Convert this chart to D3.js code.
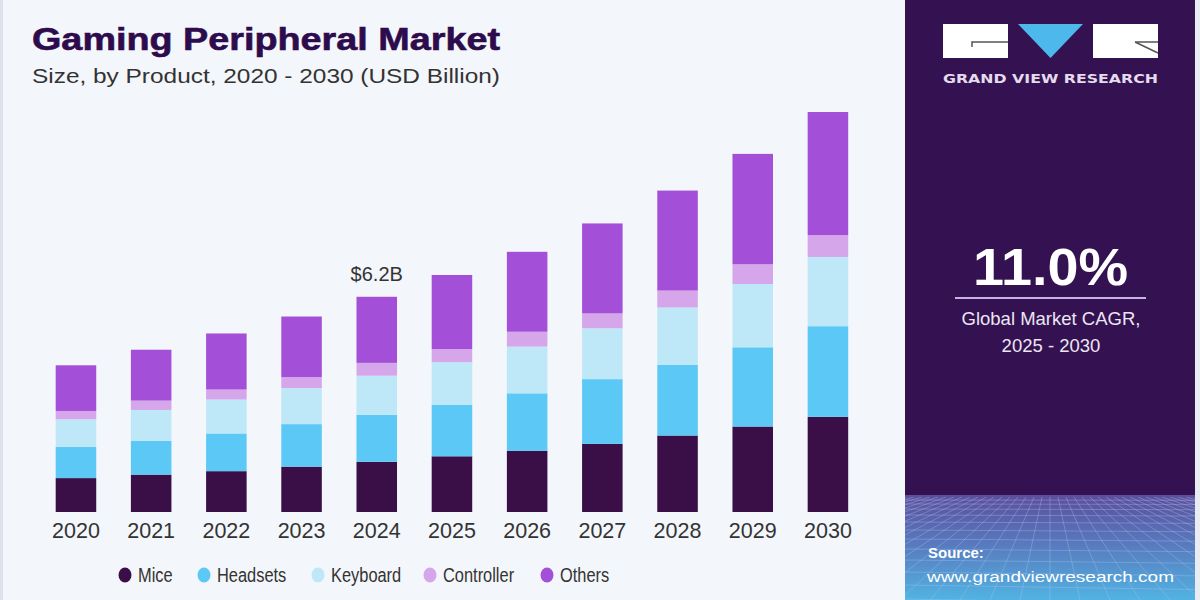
<!DOCTYPE html>
<html>
<head>
<meta charset="utf-8">
<script src="https://cdn.jsdelivr.net/npm/d3@7"></script>
<style>
  html, body { margin: 0; padding: 0; background: #f3f6fa; }
  svg { display: block; }
</style>
</head>
<body>
<svg id="chart" width="1200" height="600"></svg>
<script>
const years = ["2020","2021","2022","2023","2024","2025","2026","2027","2028","2029","2030"];
const seriesNames = ["Mice","Headsets","Keyboard","Controller","Others"];
const mice       = [0.98, 1.08, 1.18, 1.31, 1.45, 1.61, 1.77, 1.97, 2.21, 2.47, 2.75];
const headsets   = [0.90, 0.98, 1.09, 1.23, 1.36, 1.49, 1.66, 1.87, 2.04, 2.29, 2.62];
const keyboard   = [0.80, 0.89, 0.98, 1.04, 1.13, 1.23, 1.35, 1.47, 1.66, 1.83, 2.00];
const controller = [0.24, 0.27, 0.29, 0.32, 0.37, 0.38, 0.43, 0.43, 0.49, 0.57, 0.63];
const others     = [1.32, 1.47, 1.62, 1.75, 1.91, 2.14, 2.31, 2.60, 2.89, 3.19, 3.56];
const colors = ["#3a0f48", "#5bc8f5", "#bee8f8", "#d5a6ea", "#a44fd8"];
const annotationYear = "2024";
const annotationText = "$6.2B";

const svg = d3.select("#chart");

// background
svg.append("rect").attr("width",1200).attr("height",600).attr("fill","#f3f6fa");
svg.append("rect").attr("x",0).attr("y",0).attr("width",3).attr("height",600).attr("fill","#dfe2ea");

// data table
const table = years.map((y,i) => ({year:y, Mice:mice[i], Headsets:headsets[i], Keyboard:keyboard[i], Controller:controller[i], Others:others[i]}));
const stack = d3.stack().keys(seriesNames)(table);

const x = d3.scaleBand().domain(years).range([55.7, 848.2]).paddingInner(0.461).paddingOuter(0);
const y = d3.scaleLinear().domain([0, 10]).range([512, 166]);
const color = d3.scaleOrdinal().domain(seriesNames).range(colors);

const g = svg.append("g");
g.selectAll("g.series").data(stack).join("g")
  .attr("fill", d => color(d.key))
  .selectAll("rect").data(d => d).join("rect")
  .attr("x", d => x(d.data.year))
  .attr("width", x.bandwidth())
  .attr("y", d => y(d[1]))
  .attr("height", d => y(d[0]) - y(d[1]));

// x axis labels
const xAxis = d3.axisBottom(x).tickSize(0).tickPadding(10);
const ax = svg.append("g").attr("transform","translate(0,512)").call(xAxis);
ax.select(".domain").remove();
ax.selectAll("text").attr("font-family","Liberation Sans, Arial, sans-serif")
  .attr("font-size", 21.5).attr("fill","#333").attr("dy","0.76em");

// annotation
const ai = years.indexOf(annotationYear);
const total = mice[ai]+headsets[ai]+keyboard[ai]+controller[ai]+others[ai];
svg.append("text").attr("x", x(annotationYear)+x.bandwidth()/2).attr("y", y(total)-15.5)
  .attr("text-anchor","middle").attr("font-family","Liberation Sans, Arial, sans-serif")
  .attr("font-size",20).attr("fill","#333").text(annotationText);

// title
svg.append("text").attr("x",32).attr("y",50).attr("font-family","Liberation Sans, Arial, sans-serif")
  .attr("font-weight","bold").attr("font-size",31).attr("fill","#2d0b4c").attr("stroke","#2d0b4c").attr("stroke-width",0.6)
  .attr("textLength",468).attr("lengthAdjust","spacingAndGlyphs").text("Gaming Peripheral Market");
svg.append("text").attr("x",32).attr("y",83).attr("font-family","Liberation Sans, Arial, sans-serif")
  .attr("font-size",21).attr("fill","#333")
  .attr("textLength",468).attr("lengthAdjust","spacingAndGlyphs").text("Size, by Product, 2020 - 2030 (USD Billion)");

// legend
const legendX = [125, 204, 318, 430, 547];
const lg = svg.append("g");
seriesNames.forEach((n,i) => {
  lg.append("ellipse").attr("cx",legendX[i]).attr("cy",575).attr("rx",6.5).attr("ry",7.5).attr("fill",colors[i]);
  const t = lg.append("text").attr("x",legendX[i]+13).attr("y",582).attr("font-family","Liberation Sans, Arial, sans-serif")
    .attr("font-size",20).attr("fill","#333").text(n);
  const w = t.node().getComputedTextLength();
  t.attr("textLength", w*0.82).attr("lengthAdjust","spacingAndGlyphs");
});

// right panel
const defs = svg.append("defs");
const grad = defs.append("linearGradient").attr("id","pg").attr("x1",0).attr("y1",0).attr("x2",0).attr("y2",1);
grad.append("stop").attr("offset","0%").attr("stop-color","#5d4d9c");
grad.append("stop").attr("offset","45%").attr("stop-color","#5878bd");
grad.append("stop").attr("offset","100%").attr("stop-color","#52b3e3");
svg.append("rect").attr("x",905).attr("y",0).attr("width",295).attr("height",600).attr("fill","#e9ecf3");
svg.append("rect").attr("x",905).attr("y",0).attr("width",290).attr("height",495).attr("fill","#341251");
svg.append("rect").attr("x",905).attr("y",495).attr("width",290).attr("height",105).attr("fill","url(#pg)");

// decorative perspective grid
const grid = svg.append("g").attr("stroke","#a9c8ee").attr("stroke-opacity",0.35).attr("stroke-width",1);
defs.append("clipPath").attr("id","pc").append("rect").attr("x",905).attr("y",497).attr("width",290).attr("height",103);
grid.attr("clip-path","url(#pc)");
const hy = [500, 504, 509, 515, 522, 530, 539, 549, 560, 572, 585, 599];
hy.forEach(v => grid.append("line").attr("x1",905).attr("x2",1195).attr("y1",v).attr("y2",v+ (v-495)*0.05));
d3.range(-20, 21).forEach(k => {
  grid.append("line").attr("x1",1050 + k*8).attr("y1",497).attr("x2",1050 + k*30).attr("y2",600);
});

// logo
const logo = svg.append("g");
logo.append("rect").attr("x",943).attr("y",24).attr("width",65).attr("height",34).attr("fill","#ffffff");
logo.append("path").attr("d","M972,47 L972,42 L1008,42").attr("fill","none").attr("stroke","#555").attr("stroke-width",1.5);
logo.append("path").attr("d","M1018,24 L1083,24 L1050.5,58 Z").attr("fill","#4cb8ec");
logo.append("rect").attr("x",1093).attr("y",24).attr("width",65).attr("height",34).attr("fill","#ffffff");
logo.append("path").attr("d","M1135,42 L1158,42 M1135,42 L1158,53").attr("fill","none").attr("stroke","#555").attr("stroke-width",1.5);
svg.append("text").attr("x",943).attr("y",83).attr("font-family","DejaVu Sans, sans-serif").attr("font-weight","bold")
  .attr("font-size",13).attr("fill","#e4dcee").attr("textLength",215).attr("lengthAdjust","spacingAndGlyphs")
  .text("GRAND VIEW RESEARCH");

// CAGR
svg.append("text").attr("x",973).attr("y",285)
  .attr("font-family","Liberation Sans, Arial, sans-serif").attr("font-weight","bold").attr("font-size",52)
  .attr("fill","#ffffff").attr("textLength",155).attr("lengthAdjust","spacingAndGlyphs").text("11.0%");
svg.append("line").attr("x1",955).attr("x2",1146).attr("y1",298).attr("y2",298).attr("stroke","#c9b2e2").attr("stroke-width",2);
svg.append("text").attr("x",1051).attr("y",325).attr("text-anchor","middle")
  .attr("font-family","Liberation Sans, Arial, sans-serif").attr("font-size",18.5).attr("fill","#ece6f3").text("Global Market CAGR,");
svg.append("text").attr("x",1051).attr("y",352).attr("text-anchor","middle")
  .attr("font-family","Liberation Sans, Arial, sans-serif").attr("font-size",18.5).attr("fill","#ece6f3").text("2025 - 2030");

// source
svg.append("text").attr("x",928).attr("y",558).attr("font-family","Liberation Sans, Arial, sans-serif")
  .attr("font-weight","bold").attr("font-size",15).attr("fill","#ffffff").text("Source:");
svg.append("text").attr("x",927).attr("y",582).attr("font-family","Liberation Sans, Arial, sans-serif")
  .attr("font-size",15.5).attr("fill","#ffffff").attr("textLength",247).attr("lengthAdjust","spacingAndGlyphs")
  .text("www.grandviewresearch.com");
</script>
</body>
</html>
